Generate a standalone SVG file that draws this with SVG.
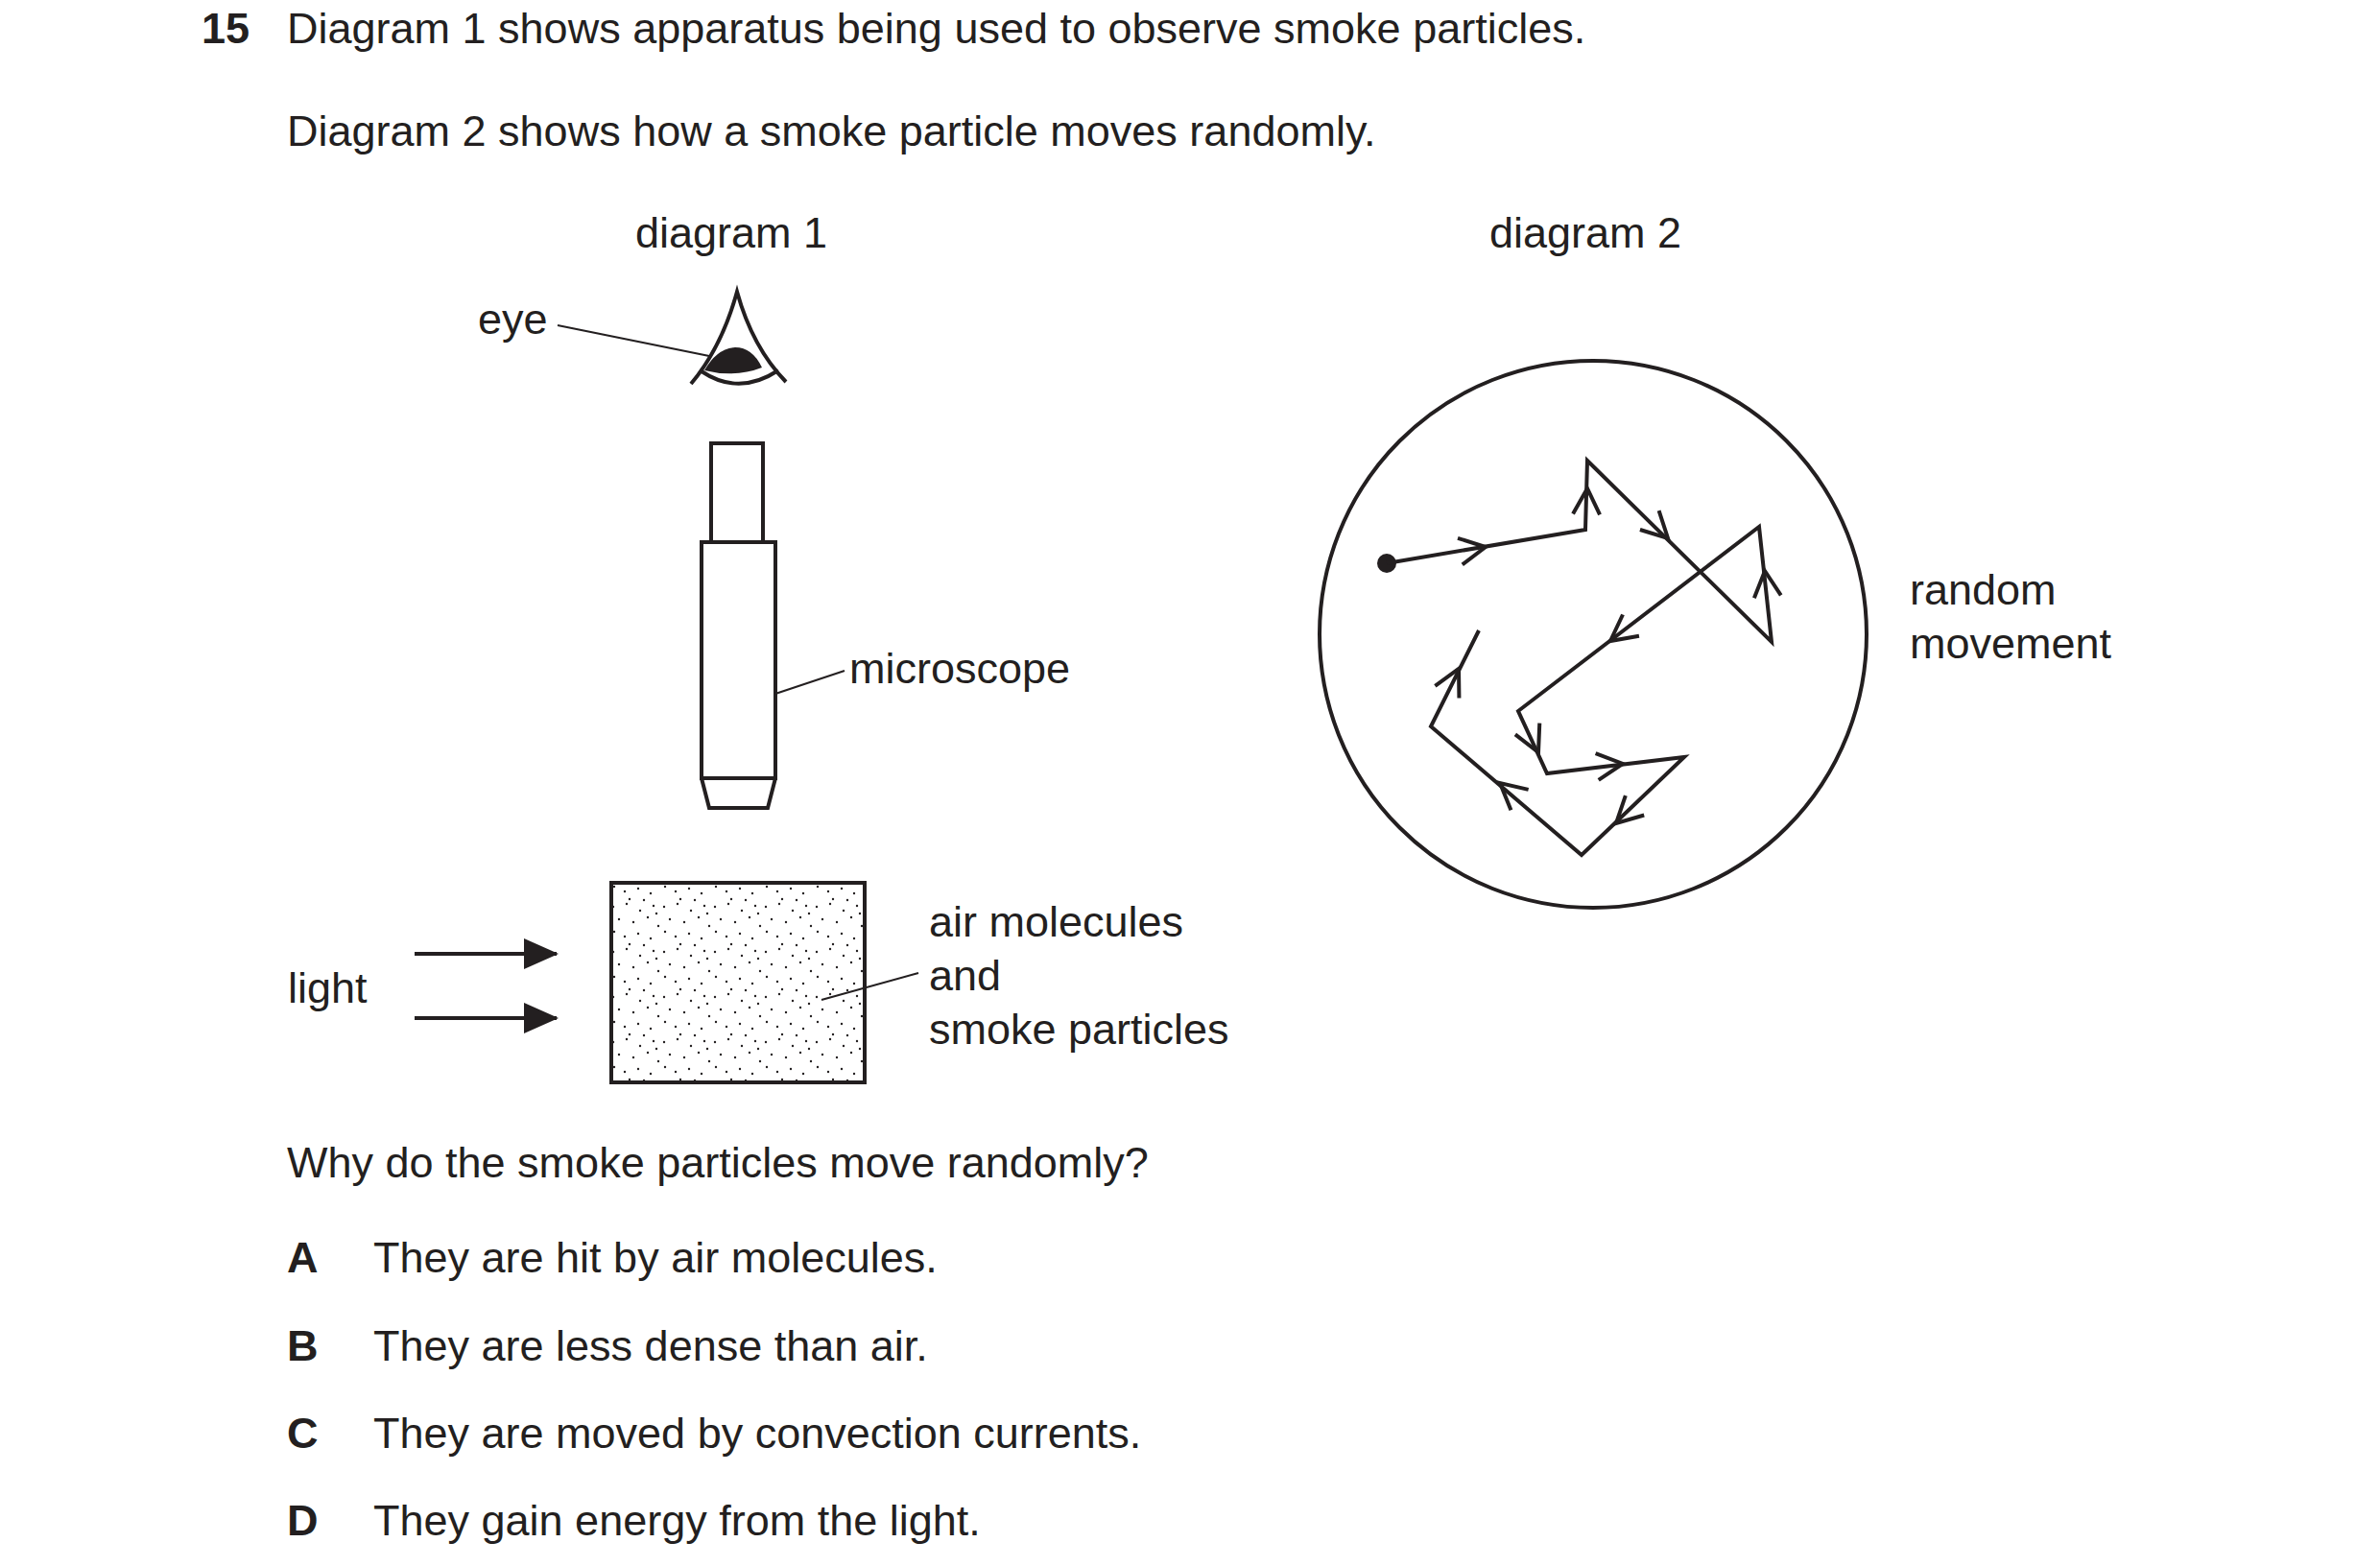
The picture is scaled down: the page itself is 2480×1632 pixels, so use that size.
<svg xmlns="http://www.w3.org/2000/svg" width="2480" height="1632" viewBox="0 0 2480 1632">
<style>
text{font-family:"Liberation Sans",Arial,sans-serif;font-size:45px;fill:#231f20}
.b{font-weight:bold}
.s{fill:none;stroke:#231f20;stroke-width:4;stroke-linejoin:miter}
.l{fill:none;stroke:#231f20;stroke-width:2}
</style>
<defs>
<path id="v" d="M-27,-14 L0,0 L-27,14" fill="none" stroke="#231f20" stroke-width="4"/>
<marker id="ah" markerWidth="36" markerHeight="32" refX="34" refY="16" orient="auto" markerUnits="userSpaceOnUse">
<path d="M0,0 L36,16 L0,32 Z" fill="#231f20"/>
</marker>
<pattern id="dots" width="53" height="47" patternUnits="userSpaceOnUse">
<g fill="#231f20">
<circle cx="3" cy="5" r="1.2"/><circle cx="17" cy="2" r="1.2"/><circle cx="31" cy="9" r="1.2"/><circle cx="45" cy="4" r="1.2"/>
<circle cx="9" cy="18" r="1.2"/><circle cx="24" cy="21" r="1.2"/><circle cx="39" cy="16" r="1.2"/><circle cx="50" cy="25" r="1.2"/>
<circle cx="4" cy="31" r="1.2"/><circle cx="15" cy="36" r="1.2"/><circle cx="29" cy="33" r="1.2"/><circle cx="42" cy="38" r="1.2"/>
<circle cx="20" cy="44" r="1.2"/><circle cx="35" cy="45" r="1.2"/><circle cx="48" cy="12" r="1.2"/>
</g>
</pattern>
</defs>
<g id="texts">
<text x="210" y="45" class="b">15</text>
<text x="299" y="45">Diagram 1 shows apparatus being used to observe smoke particles.</text>
<text x="299" y="152">Diagram 2 shows how a smoke particle moves randomly.</text>
<text x="662" y="258">diagram 1</text>
<text x="1552" y="258">diagram 2</text>
<text x="299" y="1227">Why do the smoke particles move randomly?</text>
<text x="299" y="1326" class="b">A</text><text x="389" y="1326">They are hit by air molecules.</text>
<text x="299" y="1418" class="b">B</text><text x="389" y="1418">They are less dense than air.</text>
<text x="299" y="1509" class="b">C</text><text x="389" y="1509">They are moved by convection currents.</text>
<text x="299" y="1600" class="b">D</text><text x="389" y="1600">They gain energy from the light.</text>
</g>
<g id="eye">
<text x="498" y="348">eye</text>
<line class="l" x1="581" y1="339" x2="739" y2="371"/>
<path class="s" d="M720,400 Q752,362 768,304 Q784,362 819,398"/>
<path class="s" d="M731,387 Q770,413 811,386"/>
<path d="M734,386 Q747,363 766,362 Q784,362 794,383 Q766,394 734,386 Z" fill="#231f20"/>
</g>
<g id="microscope">
<rect class="s" x="741" y="462" width="54" height="103"/>
<rect class="s" x="731" y="565" width="77" height="246"/>
<path class="s" d="M731,811 L739,842 L800,842 L808,811"/>
<line class="l" x1="808" y1="723" x2="880" y2="699"/>
<text x="885" y="712">microscope</text>
</g>
<g id="box">
<rect x="637" y="920" width="264" height="208" fill="url(#dots)" stroke="#231f20" stroke-width="4"/>
<line class="l" x1="856" y1="1042" x2="957" y2="1014"/>
<text x="968" y="976">air molecules</text>
<text x="968" y="1032">and</text>
<text x="968" y="1088">smoke particles</text>
</g>
<g id="light">
<text x="300" y="1045">light</text>
<line x1="432" y1="994" x2="580" y2="994" stroke="#231f20" stroke-width="4" marker-end="url(#ah)"/>
<line x1="432" y1="1061" x2="580" y2="1061" stroke="#231f20" stroke-width="4" marker-end="url(#ah)"/>
</g>
<g id="diagram2">
<circle class="s" cx="1660" cy="661" r="285"/>
<circle cx="1445" cy="587" r="10" fill="#231f20"/>
<polyline class="s" points="1445,587 1652,552 1654,480 1846,669 1833,549 1582,741 1612,806 1755,789 1648,891 1491,757 1541,657"/>
<use href="#v" transform="translate(1548,570) rotate(-9.8)"/>
<use href="#v" transform="translate(1654,509) rotate(-88)"/>
<use href="#v" transform="translate(1738,561) rotate(44.6)"/>
<use href="#v" transform="translate(1839,595) rotate(-96)"/>
<use href="#v" transform="translate(1678,668) rotate(142.7)"/>
<use href="#v" transform="translate(1603,784) rotate(65)"/>
<use href="#v" transform="translate(1691,796) rotate(-6.4)"/>
<use href="#v" transform="translate(1684,858) rotate(136.3)"/>
<use href="#v" transform="translate(1563,816) rotate(-139.5)"/>
<use href="#v" transform="translate(1520,697) rotate(-63.4)"/>
<text x="1990" y="630">random</text>
<text x="1990" y="686">movement</text>
</g>
</svg>
